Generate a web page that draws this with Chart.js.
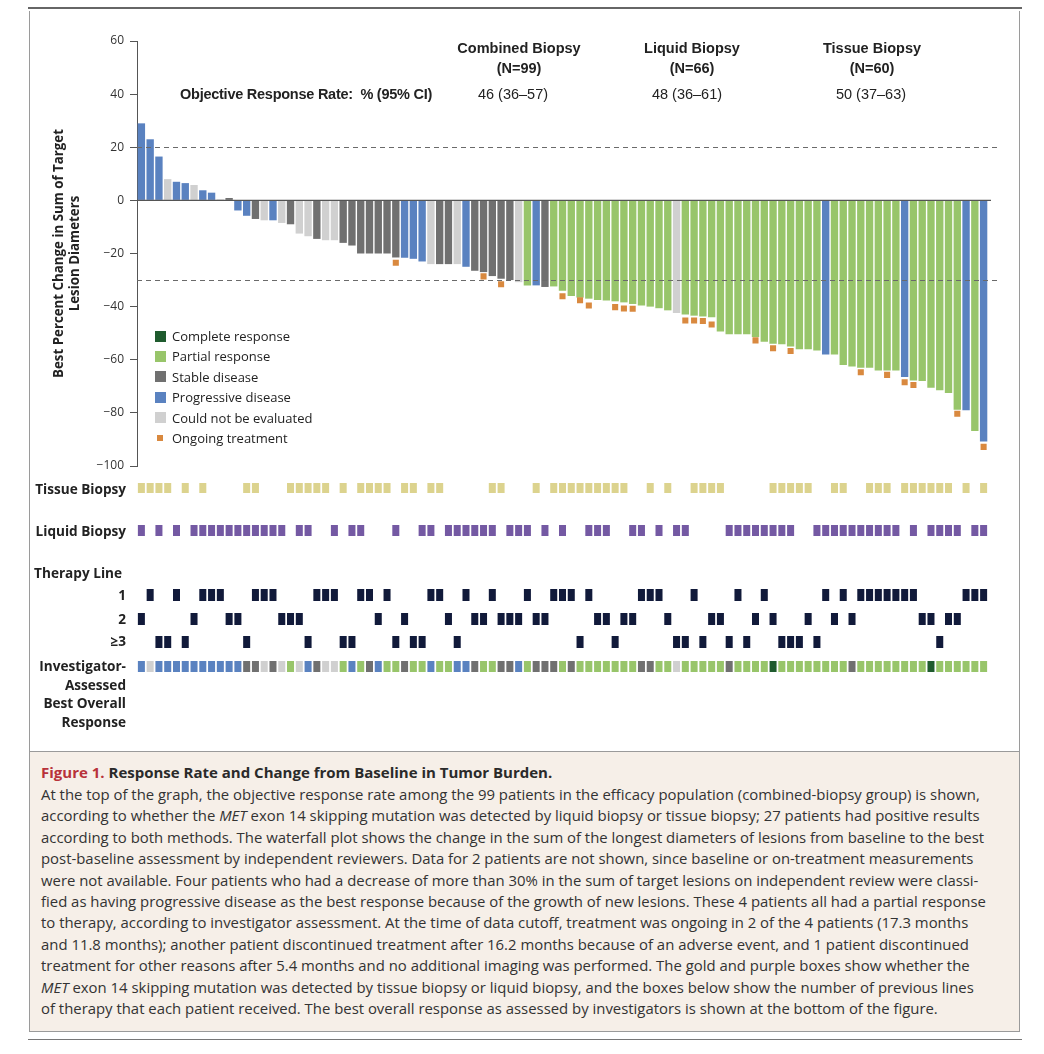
<!DOCTYPE html>
<html lang="en">
<head>
<meta charset="UTF-8">
<title>Response Rate and Change from Baseline in Tumor Burden</title>
<script src="https://cdn.jsdelivr.net/npm/chart.js@4.4.1/dist/chart.umd.min.js"></script>
<style>
    body {
        margin: 0;
        width: 1044px;
        height: 1054px;
        position: relative;
        background: #fff;
        font-family: "Open Sans", sans-serif;
        color: #222;
        overflow: hidden;
    }

    .rule-top { position: absolute; left: 28px; top: 7px; width: 994px; height: 2px; background: #666; }
    .frame {
        position: absolute; left: 29px; top: 11px; width: 991px; height: 741px;
        box-sizing: border-box; border: 1px solid #9a9a9a; border-top: none;
    }
    .caption {
        position: absolute; left: 29px; top: 751px; width: 991px; height: 281px;
        box-sizing: border-box; border: 1px solid #9a9a9a; background: #f6efe8;
    }
    .rule-bottom { position: absolute; left: 28px; top: 1039px; width: 994px; height: 1px; background: #777; }

    .chart-box { position: absolute; left: 30px; }
    #boxWaterfall { top: 20px; width: 975px; height: 470px; }
    #boxRows { top: 478px; width: 975px; height: 200px; }

    .hdr {
        position: absolute; transform: translate(-50%, -50%); white-space: nowrap;
        font-family: "Liberation Sans Narrow", "Arial Narrow", sans-serif; font-size: 14.5px;
    }
    .hdr.b { font-weight: bold; }
    .orr-label { transform: translate(0, -50%); letter-spacing: -0.25px; }

    .legend { position: absolute; left: 155px; top: 326px; font-size: 13px; }
    .legend div { height: 20.4px; line-height: 20.4px; white-space: nowrap; position: relative; padding-left: 17px; }
    .legend i { position: absolute; left: 0; top: 4.5px; width: 11px; height: 11px; }
    .legend i.small { left: 2px; top: 7px; width: 6px; height: 6px; }

    .rowlab {
        position: absolute; right: 918px; transform: translateY(-50%);
        font-weight: bold; font-size: 13.6px; white-space: nowrap; text-align: right; line-height: 18.5px;
    }
    .rowlab.top { transform: none; }

    .cap-title { position: absolute; left: 11px; top: 10px; font-size: 15px; line-height: 20px; font-weight: bold; color: #2a2a2a; }
    .cap-title span { color: #b8323a; }
    .cap-body { position: absolute; left: 11px; top: 32px; font-size: 14.9px; line-height: 21.4px; color: #333; white-space: nowrap; }
</style>
</head>
<body>
<div class="rule-top"></div>
<div class="frame"></div>

<div class="chart-box" id="boxWaterfall"><canvas id="waterfall" width="975" height="470"></canvas></div>
<div class="chart-box" id="boxRows"><canvas id="rows" width="975" height="200"></canvas></div>

<div class="hdr b" style="left:519px; top:48px;">Combined Biopsy</div>
<div class="hdr b" style="left:519px; top:68px;">(N=99)</div>
<div class="hdr b" style="left:692px; top:48px;">Liquid Biopsy</div>
<div class="hdr b" style="left:692px; top:68px;">(N=66)</div>
<div class="hdr b" style="left:872px; top:48px;">Tissue Biopsy</div>
<div class="hdr b" style="left:872px; top:68px;">(N=60)</div>
<div class="hdr b orr-label" style="left:180px; top:94px;">Objective Response Rate:&nbsp; % (95% CI)</div>
<div class="hdr" style="left:513px; top:94px;">46 (36–57)</div>
<div class="hdr" style="left:687px; top:94px;">48 (36–61)</div>
<div class="hdr" style="left:871px; top:94px;">50 (37–63)</div>

<div class="legend">
    <div><i style="background:#1f5b2e"></i>Complete response</div>
    <div><i style="background:#98c56a"></i>Partial response</div>
    <div><i style="background:#707070"></i>Stable disease</div>
    <div><i style="background:#5a82c0"></i>Progressive disease</div>
    <div><i style="background:#d0d0d0"></i>Could not be evaluated</div>
    <div><i class="small" style="background:#d9893f"></i>Ongoing treatment</div>
</div>

<div class="rowlab" style="top:489px;">Tissue Biopsy</div>
<div class="rowlab" style="top:531px;">Liquid Biopsy</div>
<div class="rowlab" style="top:573px; right:922px;">Therapy Line</div>
<div class="rowlab" style="top:595px;">1</div>
<div class="rowlab" style="top:619px;">2</div>
<div class="rowlab" style="top:641px;">≥3</div>
<div class="rowlab top" style="top:657px;">Investigator-<br>Assessed<br>Best Overall<br>Response</div>

<div class="caption">
    <div class="cap-title"><span>Figure 1.</span> Response Rate and Change from Baseline in Tumor Burden.</div>
    <div class="cap-body">
        At the top of the graph, the objective response rate among the 99 patients in the efficacy population (combined-biopsy group) is shown,<br>
        according to whether the <i>MET</i> exon 14 skipping mutation was detected by liquid biopsy or tissue biopsy; 27 patients had positive results<br>
        according to both methods. The waterfall plot shows the change in the sum of the longest diameters of lesions from baseline to the best<br>
        post-baseline assessment by independent reviewers. Data for 2 patients are not shown, since baseline or on-treatment measurements<br>
        were not available. Four patients who had a decrease of more than 30% in the sum of target lesions on independent review were classi-<br>
        fied as having progressive disease as the best response because of the growth of new lesions. These 4 patients all had a partial response<br>
        to therapy, according to investigator assessment. At the time of data cutoff, treatment was ongoing in 2 of the 4 patients (17.3 months<br>
        and 11.8 months); another patient discontinued treatment after 16.2 months because of an adverse event, and 1 patient discontinued<br>
        treatment for other reasons after 5.4 months and no additional imaging was performed. The gold and purple boxes show whether the<br>
        <i>MET</i> exon 14 skipping mutation was detected by tissue biopsy or liquid biopsy, and the boxes below show the number of previous lines<br>
        of therapy that each patient received. The best overall response as assessed by investigators is shown at the bottom of the figure.
    </div>
</div>
<div class="rule-bottom"></div>

<script>
    // best percent change per patient (independent review), sorted as in the figure
    const bestChange = [
        29, 23, 16.5, 8, 7, 6.5, 5.8, 3.8, 2.9, 0.4,
        0.9, -3.8, -5.8, -7, -7.5, -7.5, -8.5, -9, -12.5, -13.5,
        -14.5, -15, -15, -16, -17, -20, -20, -20, -20, -21.5,
        -21.6, -22, -23, -24, -24, -24, -24, -25, -26.5, -27,
        -28.5, -29.5, -30, -30.8, -32, -32, -32.6, -32.4, -34, -36,
        -36.6, -37, -37.5, -37.7, -38, -38.4, -39, -39.6, -40, -40.6,
        -41.4, -42.4, -43, -43.4, -43.7, -44, -49.4, -50.4, -50.4, -50.4,
        -51.4, -53.2, -54, -54.2, -55, -56, -56, -56.5, -58, -58,
        -62, -62.5, -63, -63, -64, -64, -64, -66.5, -67.8, -68,
        -70.5, -71.5, -72.5, -78.8, -79, -86.8, -90.8
    ];
    // C complete, R partial, S stable, P progressive, N not evaluated
    const reviewResponse = ("PPPNPPNPPN" + "SPPSNPNSNN" + "SNNSSSSSSS" + "PPPNSSNPSS" + "SSSNRPSRRR" +
        "RRRRRRRRRR" + "RNRRRRRRRR" + "RRRRRRRRPR" + "RRRRRRRPRR" + "RRRRPRP").split("");
    const investigatorResponse = ("PNPPPPPPPP" + "PPSSNSNRNP" + "SNNRPRSPRR" + "SRRPRRPPSR" + "RSSPRSSSRS" +
        "RRRRRRRSSR" + "RNRRRRRSRR" + "RRCRRRRRRR" + "RSRRRRRRRR" + "CRRRRRR").split("");

    const ongoingPatients = [30, 40, 42, 49, 51, 52, 55, 56, 57, 63, 64, 65, 66, 71, 73, 75, 83, 86, 88, 89, 94, 97];
    const ongoingMarkerY = [-23.5, -28.6, -31.6, -36.1, -37.6, -39.6, -40.2, -40.7, -40.8, -45.2, -45.2, -45.4, -46.7,
        -52.7, -55.7, -56.7, -64.7, -65.7, -68.5, -69.5, -80.3, -92.8];

    const tissuePatients = [1, 2, 3, 4, 6, 8, 13, 14, 18, 19, 20, 21, 22, 24, 26, 27, 28, 29, 31, 32, 34, 35, 41, 42, 46,
        48, 49, 50, 51, 52, 53, 54, 55, 56, 59, 61, 64, 65, 66, 67, 73, 74, 75, 76, 77, 80, 81, 84, 85, 86,
        88, 89, 90, 91, 92, 93, 95, 97];
    const liquidPatients = [1, 3, 5, 7, 8, 9, 10, 11, 12, 13, 14, 15, 16, 17, 19, 20, 23, 25, 26, 30, 33, 34, 36, 37, 38,
        39, 40, 41, 43, 44, 45, 47, 49, 52, 53, 54, 57, 58, 60, 62, 63, 68, 69, 70, 71, 72, 73, 74, 75,
        78, 79, 80, 81, 82, 83, 84, 85, 86, 87, 89, 91, 92, 93, 94, 96, 97];
    // number of previous lines of therapy (3 = 3 or more)
    const therapyLine = [
        2, 1, 3, 3, 1, 3, 2, 1, 1, 1, 2, 2, 3, 1, 1, 1, 2, 2, 2, 3,
        1, 1, 1, 3, 3, 1, 1, 2, 1, 3, 2, 3, 3, 1, 1, 2, 3, 1, 2, 2,
        1, 2, 2, 2, 1, 2, 2, 1, 1, 1, 3, 1, 2, 2, 3, 2, 2, 1, 1, 1,
        2, 3, 3, 1, 3, 2, 2, 3, 1, 3, 2, 1, 2, 3, 3, 3, 2, 3, 1, 2,
        1, 2, 1, 1, 1, 1, 1, 1, 1, 2, 2, 3, 2, 2, 1, 1, 1
    ];

    const yTicks = [60, 40, 20, 0, -20, -40, -60, -80, -100];
    const referenceValues = [20, -30];

    const patientIds = bestChange.map((v, i) => String(i + 1));

    const COLORS = {C: '#1f5b2e', R: '#98c56a', S: '#707070', P: '#5a82c0', N: '#d0d0d0'};
    const ORANGE = '#d9893f';
    const GOLD = '#dcd38e';
    const PURPLE = '#7459a3';
    const NAVY = '#111a3a';

    Chart.defaults.font.family = "'Open Sans', sans-serif";
    Chart.defaults.color = '#333';

    const markerData = patientIds.map(p => {
        const k = ongoingPatients.indexOf(Number(p));
        return k >= 0 ? ongoingMarkerY[k] : null;
    });

    const linhasReferencia = {
        id: 'linhasReferencia',
        afterDatasetsDraw(chart) {
            const {ctx, chartArea, scales: {y}} = chart;
            ctx.save();
            ctx.strokeStyle = '#6a6a6a';
            ctx.lineWidth = 1;
            ctx.setLineDash([5, 4]);
            referenceValues.forEach(v => {
                const py = Math.round(y.getPixelForValue(v)) + 0.5;
                ctx.beginPath();
                ctx.moveTo(chartArea.left, py);
                ctx.lineTo(chartArea.right + 12, py);
                ctx.stroke();
            });
            ctx.setLineDash([]);
            ctx.strokeStyle = '#555';
            ctx.lineWidth = 1.3;
            const z = y.getPixelForValue(0);
            ctx.beginPath();
            ctx.moveTo(chartArea.left, z);
            ctx.lineTo(chartArea.right + 3, z);
            ctx.stroke();
            ctx.restore();
        }
    };

    new Chart(document.getElementById('waterfall'), {
        type: 'bar',
        data: {
            labels: patientIds,
            datasets: [
                {
                    type: 'line', label: 'Ongoing treatment', data: markerData, showLine: false,
                    pointStyle: 'rect', pointRadius: 4.3, pointBackgroundColor: ORANGE, pointBorderWidth: 0,
                    order: 0
                },
                {
                    label: 'Best percent change', data: bestChange,
                    backgroundColor: reviewResponse.map(c => COLORS[c]),
                    barPercentage: 0.84, categoryPercentage: 1, order: 1
                }
            ]
        },
        options: {
            responsive: false,
            animation: false,
            layout: {padding: {top: 21, right: 17, bottom: 24, left: 0}},
            plugins: {legend: {display: false}, tooltip: {enabled: false}},
            scales: {
                x: {display: false, offset: true},
                y: {
                    min: -100, max: 60,
                    afterBuildTicks: s => { s.ticks = yTicks.map(v => ({value: v})); },
                    afterFit: s => { s.width = 107; },
                    ticks: {
                        padding: 6, font: {size: 12}, color: '#333',
                        callback: v => v < 0 ? '\u2212' + Math.abs(v) : String(v)
                    },
                    grid: {drawOnChartArea: false, tickLength: 7, tickColor: '#555'},
                    border: {color: '#555', width: 1},
                    title: {
                        display: true,
                        text: ['Best Percent Change in Sum of Target', 'Lesion Diameters'],
                        font: {size: 13.3, weight: 'bold'}, color: '#222',
                        padding: {top: 21, bottom: 0}
                    }
                }
            }
        },
        plugins: [linhasReferencia]
    });

    // rows under the waterfall; y is in pixels from the top of the rows canvas
    const rowSpans = {tissue: [5, 15], liquid: [47, 58], line1: [111, 123], line2: [135, 147], line3: [158, 170], response: [183, 194]};

    function rowDataset(label, test, span, color) {
        return {
            label: label,
            data: patientIds.map((p, i) => test(Number(p), i) ? span : null),
            backgroundColor: color
        };
    }

    new Chart(document.getElementById('rows'), {
        type: 'bar',
        data: {
            labels: patientIds,
            datasets: [
                rowDataset('Tissue Biopsy', p => tissuePatients.includes(p), rowSpans.tissue, GOLD),
                rowDataset('Liquid Biopsy', p => liquidPatients.includes(p), rowSpans.liquid, PURPLE),
                rowDataset('1', (p, i) => therapyLine[i] === 1, rowSpans.line1, NAVY),
                rowDataset('2', (p, i) => therapyLine[i] === 2, rowSpans.line2, NAVY),
                rowDataset('≥3', (p, i) => therapyLine[i] === 3, rowSpans.line3, NAVY),
                {
                    label: 'Investigator-Assessed Best Overall Response',
                    data: patientIds.map(() => rowSpans.response),
                    backgroundColor: investigatorResponse.map(c => COLORS[c])
                }
            ]
        },
        options: {
            responsive: false,
            animation: false,
            layout: {padding: {top: 0, right: 17, bottom: 0, left: 107}},
            plugins: {legend: {display: false}, tooltip: {enabled: false}},
            datasets: {bar: {grouped: false, barPercentage: 0.8, categoryPercentage: 1}},
            scales: {
                x: {display: false, offset: true},
                y: {display: false, min: 0, max: 200, reverse: true}
            }
        }
    });
</script>
</body>
</html>
